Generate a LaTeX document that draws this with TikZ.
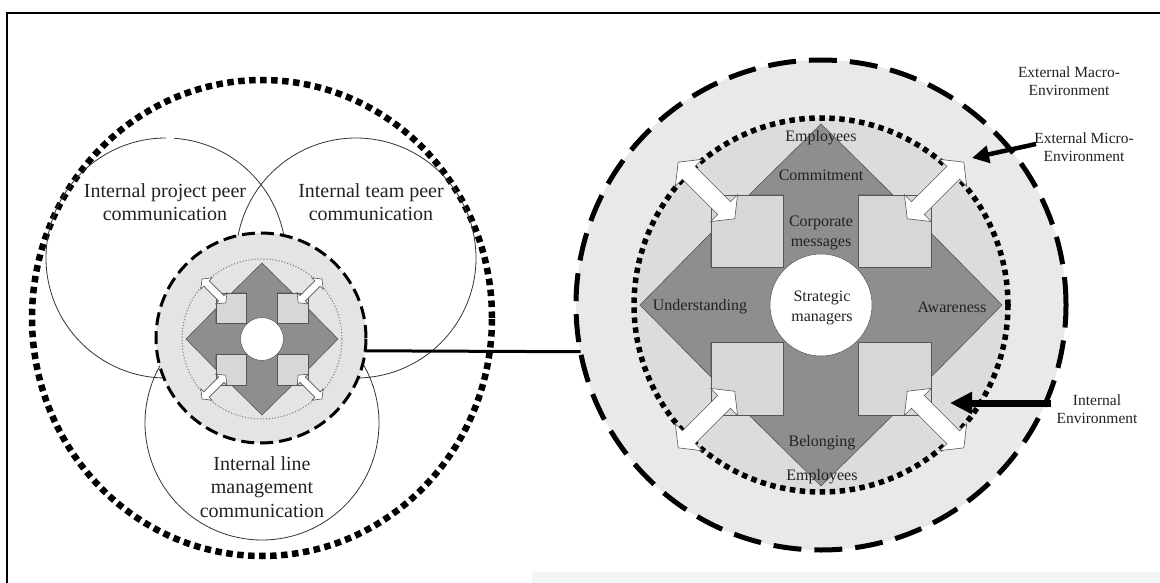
\documentclass[tikz,border=0pt]{standalone}
\usepackage{fontspec}
\setmainfont{Liberation Serif}
\usetikzlibrary{arrows.meta}

\definecolor{ringgray}{HTML}{E9E9E9}
\definecolor{innergray}{HTML}{DCDCDC}
\definecolor{coregray}{HTML}{E4E4E4}
\definecolor{squaregray}{HTML}{D7D7D7}
\definecolor{arrowgray}{HTML}{8E8E8E}
\definecolor{edgegray}{HTML}{555555}
\definecolor{inkgray}{HTML}{222222}
\definecolor{faintblue}{HTML}{F3F5F9}

\tikzset{
  % four-way arrow hub with corner squares, double arrows and centre disc
  pics/hub/.style={code={
    \filldraw[fill=arrowgray, draw=edgegray, line width=0.6pt]
      (-37.5,110) -- (-72,110) -- (0,181) -- (72,110) -- (37.5,110) --
      (37.5,37.5) -- (110,37.5) -- (110,72) -- (181,0) -- (110,-72) --
      (110,-37.5) -- (37.5,-37.5) -- (37.5,-110) -- (72,-110) -- (0,-181) --
      (-72,-110) -- (-37.5,-110) -- (-37.5,-37.5) -- (-110,-37.5) --
      (-110,-72) -- (-181,0) -- (-110,72) -- (-110,37.5) -- (-37.5,37.5) -- cycle;
    \foreach \sx/\sy in {1/1,-1/1,1/-1,-1/-1}
      \filldraw[fill=squaregray, draw=edgegray, line width=0.6pt]
        (\sx*37.5,\sy*37.5) rectangle (\sx*110,\sy*110);
    \foreach \a in {45,135,225,315}
      \filldraw[fill=white, draw=edgegray, line width=0.6pt, rotate=\a]
        (122,0) -- (137,19) -- (137,9) -- (187,9) -- (187,19) -- (202,0) --
        (187,-19) -- (187,-9) -- (137,-9) -- (137,-19) -- cycle;
    \filldraw[fill=white, draw=edgegray, line width=0.5pt] (0,0) circle[radius=51];
  }},
  label20/.style={font=\fontsize{20}{23.5}\selectfont, text=inkgray, align=center, inner sep=0pt},
  label16/.style={font=\fontsize{16}{19.5}\selectfont, text=inkgray, align=center, inner sep=0pt},
  label15/.style={font=\fontsize{15.5}{18}\selectfont, text=inkgray, align=center, inner sep=0pt},
  venn/.style={draw=black!80, line width=0.8pt},
}

\begin{document}
\begin{tikzpicture}[x=1pt, y=1pt]
\useasboundingbox (0,0) rectangle (1160,-583);

% faint strip at the bottom edge and the frame
\fill[faintblue] (532,-572) rectangle (1160,-583);
\draw[line width=2.5pt] (1165,-13) -- (7,-13) -- (7,-590);

% ---- internal communication side ----
\draw[line width=6.5pt, dash pattern=on 6.5pt off 4.5pt]
  (262,-318) ellipse[x radius=230, y radius=238];

% overlapping communication circles
\draw[venn] (166,-258) ++(90:120) arc[start angle=90, end angle=446, radius=120];
\draw[venn] (356,-258) ++(95:120) arc[start angle=95, end angle=458, radius=120];
\draw[venn] (262,-423) circle[radius=117];

\node[label20] (proj) at (165,-202) {Internal project peer\\communication};
\node[label20] (team) at (371,-202) {Internal team peer\\communication};
\node[label20] (line) at (262,-487) {Internal line\\management\\communication};

% small hub
\node[circle, minimum size=210pt, inner sep=0pt, outer sep=0pt, fill=coregray,
      draw=black, line width=3pt, dash pattern=on 13pt off 6pt] (core) at (261,-338) {};
\draw[gray, line width=1pt, dash pattern=on 1.2pt off 1.8pt] (262,-339) circle[radius=80];
\pic[scale=0.42] at (262,-339) {hub};

% ---- organisation side ----
\node[circle, minimum size=490pt, inner sep=0pt, outer sep=0pt, fill=ringgray,
      draw=black, line width=5pt, dash pattern=on 28pt off 13pt] (macro) at (821,-305) {};
\node[circle, minimum size=374pt, inner sep=0pt, outer sep=0pt, fill=innergray,
      draw=black, line width=5.5pt, dash pattern=on 5.5pt off 4.5pt] (micro) at (821,-305) {};
\pic at (821,-305) {hub};

\node[label16] (emptop) at (821,-138) {Employees};
\node[label16] (commit) at (821,-175) {Commitment};
\node[label16] (corp) at (821,-233) {Corporate\\messages};
\node[label16] (strat) at (822,-308) {Strategic\\managers};
\node[label16] (under) at (700,-307) {Understanding};
\node[label16] (aware) at (952,-307) {Awareness};
\node[label16] (belong) at (822,-443) {Belonging};
\node[label16] (empbot) at (822,-477) {Employees};

% link between the two hubs
\draw[line width=3pt] (core.-7.66) -- (macro.191.06);

% environment labels and pointers
\node[label15] (macrolbl) at (1069,-81) {External Macro-\\Environment};
\node[label15] (microlbl) at (1084,-147) {External Micro-\\Environment};
\node[label15] (intlbl) at (1097,-409) {Internal\\Environment};

\coordinate (microtail) at (1036,-144);
\coordinate (microtip) at (972,-158);
\draw[line width=4.5pt, -{Triangle[length=17pt, width=17pt]}] (microtail) -- (microtip);

\coordinate (inttail) at (1051,-403);
\coordinate (inttip) at (950,-403);
\draw[line width=7pt, -{Triangle[length=22pt, width=21pt]}] (inttail) -- (inttip);

\end{tikzpicture}
\end{document}
